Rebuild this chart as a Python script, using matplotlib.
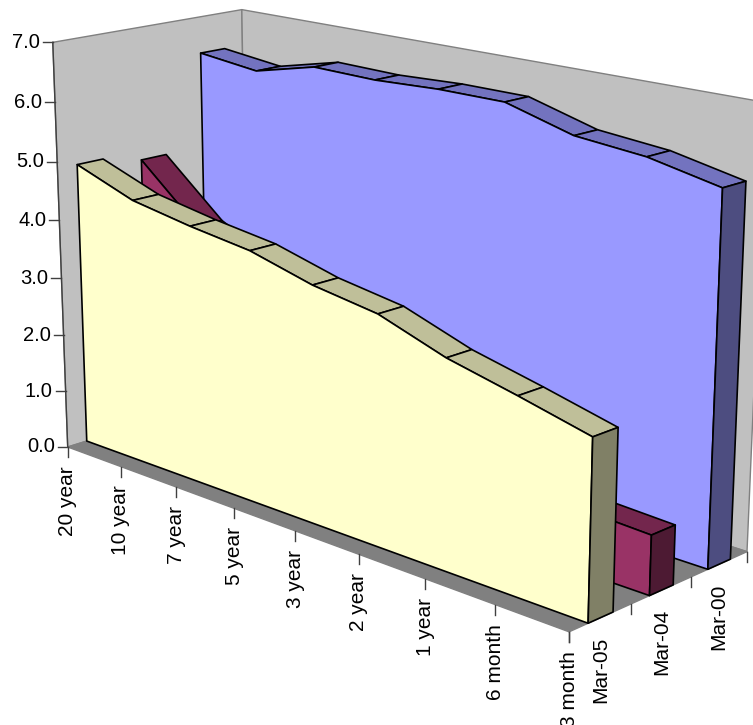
import numpy as np
import matplotlib
matplotlib.use('Agg')
import matplotlib.pyplot as plt
from matplotlib.patches import Polygon

plt.rcParams['font.family'] = ['Liberation Sans', 'DejaVu Sans']

categories = ['20 year', '10 year', '7 year', '5 year', '3 year', '2 year', '1 year', '6 month', '3 month']
series_names = ['Mar-05', 'Mar-04', 'Mar-00']
mar05 = [4.88, 4.51, 4.33, 4.19, 3.91, 3.74, 3.36, 3.10, 2.82]
mar04 = [4.72, 3.80, 3.30, 2.80, 2.00, 1.58, 1.20, 1.00, 0.95]
mar00 = [6.37, 6.25, 6.51, 6.49, 6.54, 6.54, 6.23, 6.13, 5.90]

# (category, depth, value) -> pixel pairs used to fit the camera
cam_xyz = [(0,0,0),(8,0,0),(8,3,0),(0,0,7),(0,3,7),(8,3,7),(0,.3,0),(8,.3,0),(8,.7,0),(8,1.3,0),(8,1.7,0),(8,2.3,0),(8,2.7,0),(8,1,0),(8,2,0),
           (1,0,0),(2,0,0),(3,0,0),(4,0,0),(5,0,0),(6,0,0),(7,0,0),(0,0,6),(0,0,5),(0,0,4),(0,0,3),(0,0,2),(0,0,1)]
cam_px = [(68,447),(569,631),(747,552),(53,43),(241,10),(767,103),(87,441),(588,623),(614,612),(649,596),(673,585),(708,568),(731,559),(632,603),(690,577),
          (120,467),(177,488),(234,509),(295,532),(359,555),(424,579),(495,605),(55,102),(57,161),(59,221),(62,277),(64,334),(66,391)]


def fit_camera(xyz, px):
    rows = []
    for (X, Y, Z), (x, y) in zip(xyz, px):
        rows.append([X, Y, Z, 1, 0, 0, 0, 0, -x*X, -x*Y, -x*Z, -x])
        rows.append([0, 0, 0, 0, X, Y, Z, 1, -y*X, -y*Y, -y*Z, -y])
    return np.linalg.svd(np.array(rows, dtype=float))[2][-1].reshape(3, 4)


cam = fit_camera(cam_xyz, cam_px)


def proj(X, Y, Z):
    h = cam @ np.array([X, Y, Z, 1.0])
    return h[0] / h[2], h[1] / h[2]


fig = plt.figure(figsize=(7.53, 7.25), dpi=100)
ax = fig.add_axes([0, 0, 1, 1])
ax.set_xlim(0, 753)
ax.set_ylim(725, 0)
ax.axis('off')


def quad(pts, face, edge='black', lw=1.2, z=1):
    ax.add_patch(Polygon([proj(*p) for p in pts], closed=True, facecolor=face, edgecolor=edge, linewidth=lw, joinstyle='round', zorder=z))


# walls and floor
quad([(0,0,0),(0,3,0),(0,3,7),(0,0,7)], '#C0C0C0', '#808080', 1.0)
quad([(0,3,0),(8,3,0),(8,3,7),(0,3,7)], '#C0C0C0', '#808080', 1.0)
quad([(0,0,0),(8,0,0),(8,3,0),(0,3,0)], '#808080', '#808080', 1.0)
ax.plot(*zip(proj(0,0,0), proj(0,0,7)), color='#404040', lw=1.0, zorder=1)

# axis ticks and labels
for k in range(8):
    x, y = proj(0, 0, k)
    ax.plot([x-10, x], [y, y], color='#404040', lw=1.0, zorder=1)
    ax.text(x-13, y, f'{k:.1f}', ha='right', va='center', fontsize=14.5, color='black')
for i, name in enumerate(categories):
    x, y = proj(i, 0, 0)
    ax.plot([x, x], [y, y+10], color='#404040', lw=1.0, zorder=1)
    ax.text(x, y+19, name, rotation=90, ha='center', va='top', fontsize=15, color='black')
for d in range(4):
    x, y = proj(8, d, 0)
    ax.plot([x, x], [y, y+10], color='#404040', lw=1.0, zorder=1)
for d, name in enumerate(series_names):
    x, y = proj(8, d+.5, 0)
    ax.text(x, y+19, name, rotation=90, ha='center', va='top', fontsize=15, color='black')


def ribbon(values, d0, d1, front, top, side, z):
    n = len(values)
    for i in range(n-1):
        quad([(i,d0,values[i]),(i+1,d0,values[i+1]),(i+1,d1,values[i+1]),(i,d1,values[i])], top, z=z)
    outline = [(i,d0,values[i]) for i in range(n)] + [(n-1,d0,0),(0,d0,0)]
    quad(outline, front, z=z)
    quad([(n-1,d0,0),(n-1,d1,0),(n-1,d1,values[-1]),(n-1,d0,values[-1])], side, z=z)


ribbon(mar00, 2.3, 2.7, '#9999FF', '#7373BF', '#4D4D80', 2)
ribbon(mar04, 1.3, 1.7, '#993366', '#73264D', '#4D1A33', 3)
ribbon(mar05, 0.3, 0.7, '#FFFFCC', '#BFBF99', '#808066', 4)

fig.savefig('out.png', dpi=100)
